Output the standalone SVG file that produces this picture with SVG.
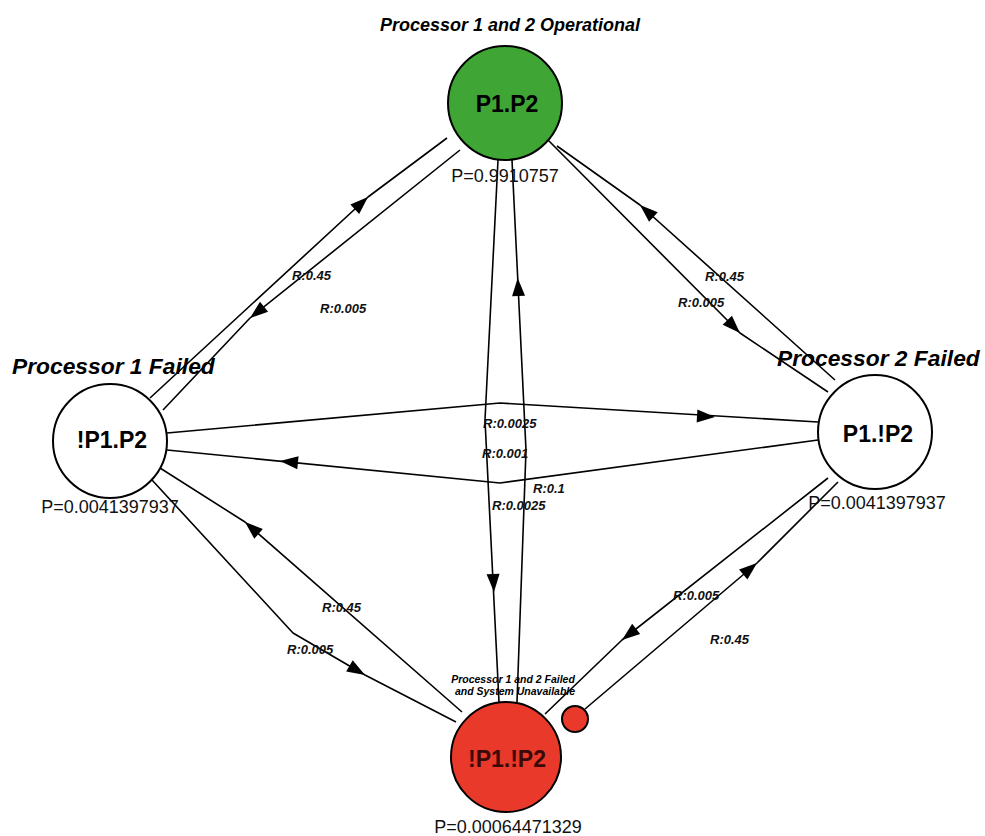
<svg xmlns="http://www.w3.org/2000/svg" xmlns:xlink="http://www.w3.org/1999/xlink" width="985" height="836" viewBox="0 0 985 836">
<defs>
<style>
.edge{fill:none;stroke:#000;stroke-width:1.6;stroke-linejoin:round}
.node{stroke:#000;stroke-width:2}
.nl{font-family:"Liberation Sans",Arial,sans-serif;font-weight:bold;font-size:23px;text-anchor:middle}
.pl{font-family:"Liberation Sans",Arial,sans-serif;font-size:18px;text-anchor:middle;fill:#111}
.tt{font-family:"Liberation Sans",Arial,sans-serif;font-weight:bold;font-style:italic}
.rl{font-family:"Liberation Sans",Arial,sans-serif;font-style:italic;font-weight:bold;font-size:13px;fill:#111}
</style>
<path id="ah" d="M0,0 L-18,-6.5 L-18,6.5 Z" fill="#000"/>
</defs>
<rect width="985" height="836" fill="#fff"/>

<g id="connectors">
<path class="edge" d="M150,398 L368,197 L447,138"/>
<use xlink:href="#ah" transform="translate(368,197) rotate(-42.7)"/>
<path class="edge" d="M460,150 L250,318 L163,410"/>
<use xlink:href="#ah" transform="translate(250,318) rotate(141.3)"/>
<path class="edge" d="M548,140 L740,333 L828,392"/>
<use xlink:href="#ah" transform="translate(740,333) rotate(45.2)"/>
<path class="edge" d="M835,380 L640,205 L557,146"/>
<use xlink:href="#ah" transform="translate(640,205) rotate(-138.1)"/>
<path class="edge" d="M167,433 L500,403 L818,422"/>
<use xlink:href="#ah" transform="translate(715,417) rotate(3.4)"/>
<path class="edge" d="M818,440 L500,483 L167,450"/>
<use xlink:href="#ah" transform="translate(280,461) rotate(185.7)"/>
<path class="edge" d="M498,160 L485,420 L499,702"/>
<use xlink:href="#ah" transform="translate(494,592) rotate(87)"/>
<path class="edge" d="M517,702 L526,450 L512,160"/>
<use xlink:href="#ah" transform="translate(517.7,278) rotate(267.2)"/>
<path class="edge" d="M462,712 L245,522 L160,468"/>
<use xlink:href="#ah" transform="translate(245,522) rotate(-138.8)"/>
<path class="edge" d="M152,480 L293,633 L365,675 L456,722"/>
<use xlink:href="#ah" transform="translate(365,675) rotate(30.3)"/>
<path class="edge" d="M828,478 L622,640 L545,714"/>
<use xlink:href="#ah" transform="translate(622,640) rotate(141.8)"/>
<path class="edge" d="M585,709 L757,563 L838,482"/>
<use xlink:href="#ah" transform="translate(757,563) rotate(-40.1)"/>
</g>

<g id="edge-labels">
<text class="rl" x="292" y="280">R:0.45</text>
<text class="rl" x="320" y="313">R:0.005</text>
<text class="rl" x="705" y="281">R:0.45</text>
<text class="rl" x="678" y="307">R:0.005</text>
<text class="rl" x="483" y="428">R:0.0025</text>
<text class="rl" x="482" y="458">R:0.001</text>
<text class="rl" x="533" y="493">R:0.1</text>
<text class="rl" x="492" y="510">R:0.0025</text>
<text class="rl" x="322" y="612">R:0.45</text>
<text class="rl" x="287" y="654">R:0.005</text>
<text class="rl" x="673" y="600">R:0.005</text>
<text class="rl" x="710" y="644">R:0.45</text>
</g>

<g id="node-p1p2">
<text class="tt" x="510" y="31" font-size="18" text-anchor="middle">Processor 1 and 2 Operational</text>
<circle class="node" cx="505" cy="103" r="57" fill="#3fa535"/>
<text class="nl" x="507" y="112">P1.P2</text>
<text class="pl" x="505" y="182">P=0.9910757</text>
</g>

<g id="node-np1p2">
<text class="tt" x="12" y="374" font-size="22.8">Processor 1 Failed</text>
<circle class="node" cx="110" cy="441" r="57" fill="#fff"/>
<text class="nl" x="112" y="448">!P1.P2</text>
<text class="pl" x="110" y="513">P=0.0041397937</text>
</g>

<g id="node-p1np2">
<text class="tt" x="777" y="366" font-size="22.8">Processor 2 Failed</text>
<circle class="node" cx="875" cy="432" r="57" fill="#fff"/>
<text class="nl" x="878" y="442">P1.!P2</text>
<text class="pl" x="877" y="509">P=0.0041397937</text>
</g>

<g id="node-np1np2">
<text class="tt" x="513" y="683" font-size="10.5" text-anchor="middle">Processor 1 and 2 Failed</text>
<text class="tt" x="515" y="695" font-size="10.5" text-anchor="middle">and System Unavailable</text>
<circle class="node" cx="506" cy="757" r="55" fill="#e8392a"/>
<circle class="node" cx="575" cy="719" r="13" fill="#e8392a"/>
<text class="nl" x="507" y="767" fill="#3a0a08">!P1.!P2</text>
<text class="pl" x="508" y="833">P=0.00064471329</text>
</g>
</svg>
